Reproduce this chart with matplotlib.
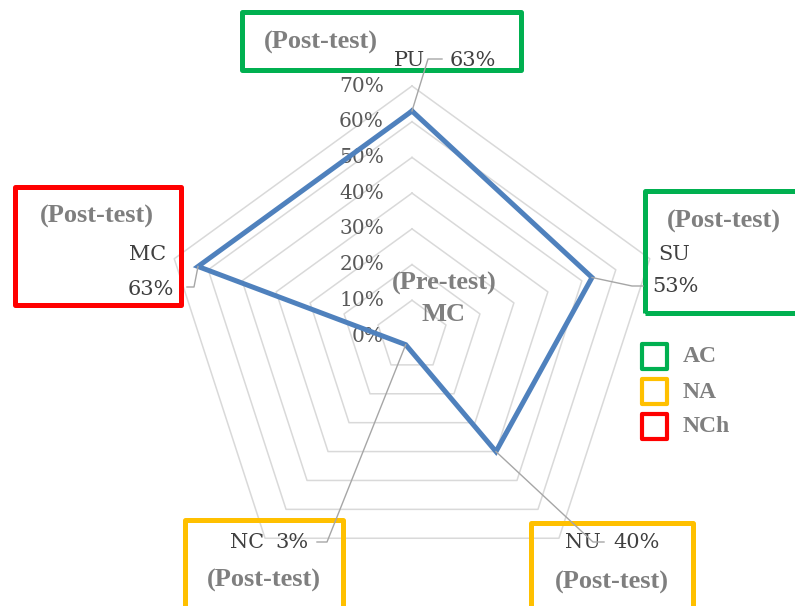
import numpy as np
import matplotlib
matplotlib.use("Agg")
import matplotlib.pyplot as plt
from matplotlib.patches import Rectangle
from matplotlib.lines import Line2D

# data
categories = ["PU", "SU", "NU", "NC", "MC"]
post_values = [0.63, 0.53, 0.40, 0.03, 0.63]
rings = [0.1, 0.2, 0.3, 0.4, 0.5, 0.6, 0.7]
ring_labels = ["0%", "10%", "20%", "30%", "40%", "50%", "60%", "70%"]
legend_labels = ["AC", "NA", "NCh"]
legend_colors = ["#00b050", "#ffc000", "#ff0000"]

W, H = 795, 606
fig = plt.figure(figsize=(W / 100, H / 100), dpi=100)

# polar axes centred at pixel (412, 336), radius 250 px for 70 %
cx, cy, rad = 412, 336, 250
ax = fig.add_axes([(cx - rad) / W, (H - cy - rad) / H, 2 * rad / W, 2 * rad / H],
                  projection="polar")
ax.set_theta_zero_location("N")
ax.set_theta_direction(-1)
ax.set_ylim(0, 0.7)
ax.grid(False)
ax.set_xticks([])
ax.set_yticks([])
ax.spines["polar"].set_visible(False)
ax.patch.set_visible(False)

angles = np.linspace(0, 2 * np.pi, len(categories), endpoint=False)
closed = np.append(angles, angles[0])

for r in rings:
    ax.plot(closed, [r] * len(closed), color="#d9d9d9", lw=1.1, clip_on=False, zorder=1)

vals = post_values + post_values[:1]
ax.plot(closed, vals, color="#4f81bd", lw=3.6, clip_on=False, zorder=3,
        solid_joinstyle="miter")

# radial tick labels along the top spoke
for r, lab in zip([0.0] + rings, ring_labels):
    ax.annotate(lab, xy=(0, r), xytext=(-28, 0), textcoords="offset pixels",
                ha="right", va="center", fontsize=14.5, family="DejaVu Serif",
                color="#595959", annotation_clip=False, zorder=2)


def fx(x, y):
    return x / W, 1 - y / H


def to_fig(theta, r):
    d = ax.transData.transform((theta, r))
    return fig.transFigure.inverted().transform(d)


label_font = dict(fontsize=15, family="DejaVu Serif", color="#404040", va="center")
post_font = dict(fontsize=19, family="Liberation Serif", weight="bold", color="#7f7f7f",
                 ha="center", va="center")

# leader waypoints and label placements (pixels, top-left origin)
leaders = [
    [(428, 59), (442, 59)],
    [(632, 286), (643, 286)],
    [(593, 542), (604, 542)],
    [(327, 542), (317, 542)],
    [(194, 287), (187, 287)],
]
name_pos = [(425, 60, "right"), (658, 255, "left"), (565, 543, "left"),
            (230, 543, "left"), (166, 255, "right")]
value_pos = [(450, 60, "left"), (652, 287, "left"), (613, 543, "left"),
             (275, 543, "left"), (174, 289, "right")]

fig.canvas.draw()
fig.canvas.draw()
for i, (cat, v) in enumerate(zip(categories, post_values)):
    p0 = to_fig(angles[i], v)
    pts = [tuple(p0)] + [fx(*p) for p in leaders[i]]
    xs, ys = zip(*pts)
    fig.add_artist(Line2D(xs, ys, color="#a6a6a6", lw=1.0, transform=fig.transFigure,
                          zorder=4))
    nx, ny, nha = name_pos[i]
    fig.text(*fx(nx, ny), cat, ha=nha, **label_font)
    vx, vy, vha = value_pos[i]
    fig.text(*fx(vx, vy), f"{v:.0%}", ha=vha, **label_font)

# coloured frames around labels (pixels: x0, y0, x1, y1)
boxes = [
    ((242, 12, 521, 70), legend_colors[0], (321, 42)),
    ((645, 191, 805, 313), legend_colors[0], (724, 221)),
    ((531, 523, 693, 615), legend_colors[1], (612, 582)),
    ((185, 520, 343, 615), legend_colors[1], (264, 580)),
    ((15, 187, 181, 305), legend_colors[2], (97, 216)),
]
for (x0, y0, x1, y1), col, (tx, ty) in boxes:
    fig.add_artist(Rectangle(fx(x0, y1), (x1 - x0) / W, (y1 - y0) / H, fill=False,
                             edgecolor=col, lw=3.6, transform=fig.transFigure,
                             joinstyle="round", clip_on=False))
    fig.text(*fx(tx, ty), "(Post-test)", **post_font)

fig.text(*fx(444, 283), "(Pre-test)", **post_font)
fig.text(*fx(444, 314), "MC", **post_font)

# legend squares
for i, (lab, col) in enumerate(zip(legend_labels, legend_colors)):
    top = 344 + i * 35
    fig.add_artist(Rectangle(fx(642, top + 25), 25 / W, 25 / H, fill=False,
                             edgecolor=col, lw=3.0, transform=fig.transFigure,
                             joinstyle="round"))
    fig.text(*fx(683, top + 13), lab, fontsize=17, family="Liberation Serif",
             weight="bold", color="#7f7f7f", ha="left", va="center")

fig.savefig("out.png", dpi=100)
